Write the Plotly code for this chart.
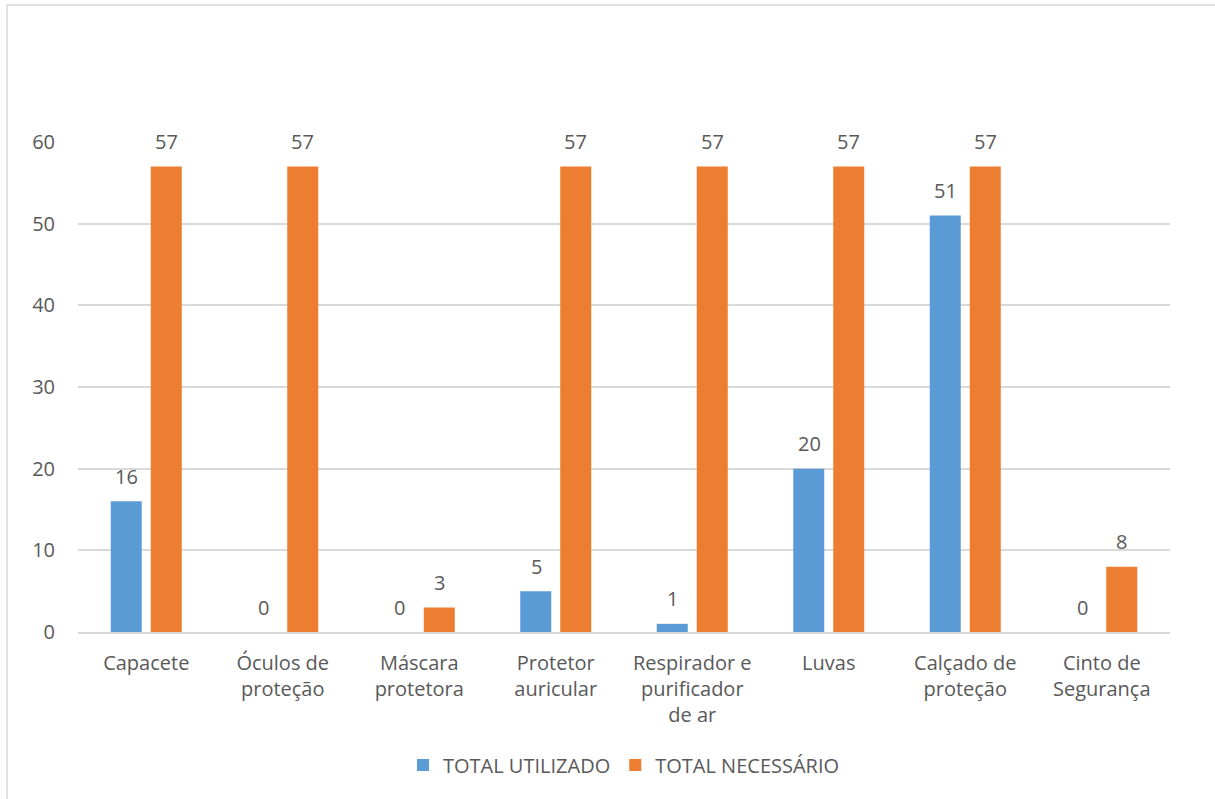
import plotly.graph_objects as go

categories = ["Capacete", "Óculos de<br>proteção", "Máscara<br>protetora", "Protetor<br>auricular",
              "Respirador e<br>purificador<br>de ar", "Luvas", "Calçado de<br>proteção", "Cinto de<br>Segurança"]
total_utilizado = [16, 0, 0, 5, 1, 20, 51, 0]
total_necessario = [57, 57, 3, 57, 57, 57, 57, 8]
y_ticks = [0, 10, 20, 30, 40, 50, 60]

FONT = "Open Sans, Liberation Sans, sans-serif"
GRAY = "#595959"
FS = 20

fig = go.Figure()
fig.add_trace(go.Bar(x=categories, y=total_utilizado, name="TOTAL UTILIZADO",
                     marker=dict(color="#5B9BD5", line=dict(width=0))))
fig.add_trace(go.Bar(x=categories, y=total_necessario, name="TOTAL NECESSÁRIO",
                     marker=dict(color="#ED7D31", line=dict(width=0))))

annotations = []
for series, shift in ((total_utilizado, -19.75), (total_necessario, 19.75)):
    for cat, val in zip(categories, series):
        annotations.append(dict(x=cat, y=val, xref="x", yref="y", text=str(val), showarrow=False,
                                xshift=shift, yshift=25, yanchor="middle",
                                font=dict(size=FS, color=GRAY, family=FONT)))

L, R, T, B = 78, 1170, 142, 632
W, H = 1215, 799
pw, ph = R - L, B - T

def px(x):
    return (x - L) / pw

def py(y):
    return (B - y) / ph

fig.update_layout(
    width=W, height=H,
    margin=dict(l=L, r=W - R, t=T, b=H - B, pad=0),
    paper_bgcolor="white", plot_bgcolor="white",
    barmode="group", bargap=0.414, bargroupgap=0.225,
    font=dict(family=FONT, size=FS, color=GRAY),
    showlegend=True,
    legend=dict(orientation="h", x=0.5, xanchor="center", y=py(765), yanchor="middle",
                font=dict(size=FS, color=GRAY, family=FONT), itemwidth=30,
                traceorder="normal"),
    xaxis=dict(showgrid=False, showline=True, linecolor="#D9D9D9", linewidth=1.5,
               ticks="", tickfont=dict(size=FS, color=GRAY, family=FONT), tickangle=0,
               ticklabelstandoff=12),
    yaxis=dict(range=[0, 60], tickvals=y_ticks, showgrid=True, gridcolor="#D9D9D9",
               gridwidth=1.5, zeroline=False, showline=False, ticks="",
               tickfont=dict(size=FS, color=GRAY, family=FONT), ticklabelstandoff=22),
    annotations=annotations,
    shapes=[
        dict(type="line", xref="paper", yref="paper", x0=px(7), x1=px(1215), y0=py(5), y1=py(5),
             line=dict(color="#D9D9D9", width=1.5)),
        dict(type="line", xref="paper", yref="paper", x0=px(7), x1=px(7), y0=py(5), y1=py(799),
             line=dict(color="#D9D9D9", width=1.5)),
    ],
)

fig.write_html("out.html")
